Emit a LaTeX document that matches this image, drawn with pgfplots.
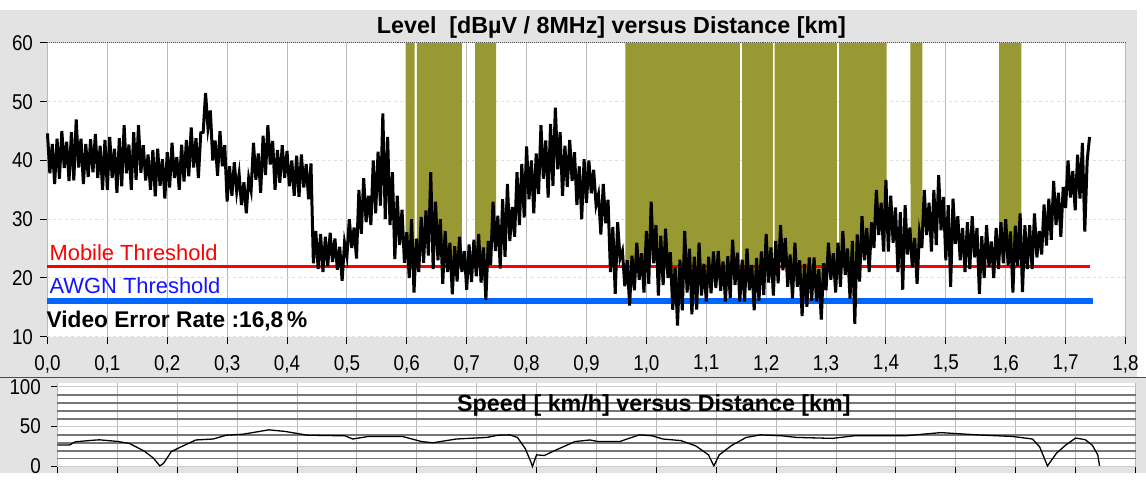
\documentclass[border=0pt]{standalone}
\usepackage{fontspec}
\setmainfont{Liberation Sans}
\newfontfamily\narrowfont[FakeStretch=0.88]{Liberation Sans}
\usepackage{pgfplots}
\usepackage{pgfplotstable}
\pgfplotsset{compat=1.18}
\usepgfplotslibrary{fillbetween}
\pgfdeclarelayer{background}
\pgfdeclarelayer{axis background}
\pgfdeclarelayer{axis grid}
\pgfdeclarelayer{axis ticks}
\pgfdeclarelayer{axis lines}
\pgfdeclarelayer{axis tick labels}
\pgfdeclarelayer{pre main}
\pgfdeclarelayer{axis descriptions}
\pgfdeclarelayer{axis foreground}
\pgfplotsset{
  layers/mylayers/.define layer set={
    background,axis background,axis grid,axis ticks,axis lines,axis tick labels,pre main,main,axis descriptions,axis foreground
  }{/pgfplots/layers/standard},
}
\definecolor{panel}{RGB}{227,227,227}
\definecolor{olivefill}{RGB}{153,153,51}
\definecolor{awgnline}{RGB}{0,102,255}
\definecolor{awgntext}{RGB}{20,20,255}
\definecolor{gridx}{RGB}{185,185,185}
\definecolor{darkgrid}{RGB}{118,118,118}
\newcommand\tickfont{\narrowfont\fontsize{21.5}{21.5}\selectfont}

\pgfplotstableread[row sep=\\]{
x y\\
0.000 44.6\\ 0.004 37.8\\ 0.008 42.8\\ 0.012 36\\ 0.016 43.7\\
0.020 36.9\\ 0.024 45\\ 0.028 38.7\\ 0.032 43.2\\ 0.036 36.5\\
0.040 44.8\\ 0.044 36.6\\ 0.048 47\\ 0.052 38.8\\ 0.056 43.7\\
0.060 36\\ 0.064 42.8\\ 0.068 37.2\\ 0.072 43.6\\ 0.076 38\\
0.080 44.5\\ 0.084 37\\ 0.088 42.5\\ 0.092 35\\ 0.096 43.5\\
0.100 35\\ 0.104 44\\ 0.108 37\\ 0.112 42\\ 0.116 34.5\\
0.120 43.8\\ 0.124 35.6\\ 0.128 46\\ 0.132 37.8\\ 0.136 42.7\\
0.140 35\\ 0.144 44.8\\ 0.148 36.7\\ 0.152 46\\ 0.156 37.9\\
0.160 42.6\\ 0.164 36.6\\ 0.168 41\\ 0.172 35\\ 0.176 41.8\\
0.180 33.9\\ 0.184 42\\ 0.188 35.7\\ 0.192 40.2\\ 0.196 33.5\\
0.200 41.4\\ 0.204 35.4\\ 0.208 43\\ 0.212 37\\ 0.216 40.6\\
0.220 35\\ 0.224 42.7\\ 0.228 36.4\\ 0.232 43.5\\ 0.236 37.3\\
0.240 45.6\\ 0.244 38.8\\ 0.248 43.8\\ 0.252 37\\ 0.256 44.7\\
0.260 44.8\\ 0.264 51.5\\ 0.268 45.5\\ 0.272 48.5\\ 0.276 40\\
0.280 43.4\\ 0.284 37.4\\ 0.288 45\\ 0.292 39\\ 0.296 42.6\\
0.300 33\\ 0.304 39\\ 0.308 34\\ 0.312 39.7\\ 0.316 34.7\\
0.320 37.7\\ 0.324 32.4\\ 0.328 36.3\\ 0.332 31\\ 0.336 37\\
0.340 34.9\\ 0.344 43\\ 0.348 36.7\\ 0.352 41.2\\ 0.356 34.5\\
0.360 44.2\\ 0.364 37.5\\ 0.368 46\\ 0.372 39.3\\ 0.376 43.3\\
0.380 35\\ 0.384 41.8\\ 0.388 36.2\\ 0.392 42.6\\ 0.396 37\\
0.400 41.6\\ 0.404 35.6\\ 0.408 40\\ 0.412 34\\ 0.416 40.8\\
0.420 33.8\\ 0.424 41\\ 0.428 35.4\\ 0.432 39.4\\ 0.436 33.4\\
0.440 39.5\\ 0.444 22.5\\ 0.448 28\\ 0.452 21.5\\ 0.456 27.5\\
0.460 21\\ 0.464 27\\ 0.468 22\\ 0.472 27.7\\ 0.476 22.7\\
0.480 26.7\\ 0.484 21.4\\ 0.488 25.3\\ 0.492 19.5\\ 0.496 26\\
0.500 23.7\\ 0.504 30\\ 0.508 25.1\\ 0.512 28.6\\ 0.516 23.3\\
0.520 35\\ 0.524 27.5\\ 0.528 37\\ 0.532 29.5\\ 0.536 34\\
0.540 29\\ 0.544 40\\ 0.548 31\\ 0.552 41.5\\ 0.556 32.3\\
0.560 48\\ 0.564 30\\ 0.568 44\\ 0.572 29\\ 0.576 38\\
0.580 23.2\\ 0.584 34\\ 0.588 25.6\\ 0.592 31.6\\ 0.596 22.6\\
0.600 27.8\\ 0.604 20\\ 0.608 30\\ 0.612 17.5\\ 0.616 26.7\\
0.620 21\\ 0.624 30.4\\ 0.628 22.6\\ 0.632 31.5\\ 0.636 23.8\\
0.640 38\\ 0.644 21.5\\ 0.648 33\\ 0.652 23\\ 0.656 30\\
0.660 19\\ 0.664 28\\ 0.668 21\\ 0.672 26\\ 0.676 17.2\\
0.680 25.4\\ 0.684 19.4\\ 0.688 27\\ 0.692 21\\ 0.696 24.6\\
0.700 18\\ 0.704 25.7\\ 0.708 19.3\\ 0.712 26.5\\ 0.716 20.3\\
0.720 27.5\\ 0.724 19.2\\ 0.728 25.2\\ 0.732 16.3\\ 0.736 26.3\\
0.740 22.2\\ 0.744 33\\ 0.748 24.6\\ 0.752 30.6\\ 0.756 21.6\\
0.760 33.4\\ 0.764 23.6\\ 0.768 36\\ 0.772 26.3\\ 0.776 32.1\\
0.780 27\\ 0.784 38\\ 0.788 29\\ 0.792 39.4\\ 0.796 30.3\\
0.800 42.4\\ 0.804 33.4\\ 0.808 40\\ 0.812 31\\ 0.816 41.2\\
0.820 34.3\\ 0.824 46\\ 0.828 36.9\\ 0.832 43.4\\ 0.836 33.7\\
0.840 46.2\\ 0.844 35.7\\ 0.848 49\\ 0.852 38.5\\ 0.856 44.8\\
0.860 34\\ 0.864 42.5\\ 0.868 35.5\\ 0.872 43.5\\ 0.876 36.5\\
0.880 41.4\\ 0.884 32.4\\ 0.888 39\\ 0.892 30\\ 0.896 40.2\\
0.900 32.8\\ 0.904 40\\ 0.908 34.4\\ 0.912 38.4\\ 0.916 32.4\\
0.920 34.2\\ 0.924 27.4\\ 0.928 36\\ 0.932 29.3\\ 0.936 33.3\\
0.940 21\\ 0.944 28.7\\ 0.948 17.3\\ 0.952 29.5\\ 0.956 23.3\\
0.960 24.6\\ 0.964 18.6\\ 0.968 23\\ 0.972 15.3\\ 0.976 23.8\\
0.980 17.9\\ 0.984 26\\ 0.988 19.7\\ 0.992 24.2\\ 0.996 17.5\\
1.000 28\\ 1.004 19\\ 1.008 33\\ 1.012 22.5\\ 1.016 29\\
1.020 17\\ 1.024 27.2\\ 1.028 18.8\\ 1.032 28.4\\ 1.036 20\\
1.040 24.4\\ 1.044 14.6\\ 1.048 21.8\\ 1.052 11.9\\ 1.056 23.1\\
1.060 14.5\\ 1.064 28\\ 1.068 17.5\\ 1.072 25\\ 1.076 13.8\\
1.080 23.6\\ 1.084 14.6\\ 1.088 26\\ 1.092 17\\ 1.096 22.4\\
1.100 16\\ 1.104 23.6\\ 1.108 17.4\\ 1.112 24.5\\ 1.116 18.3\\
1.120 24.6\\ 1.124 17.8\\ 1.128 22.8\\ 1.132 16\\ 1.136 23.7\\
1.140 16.6\\ 1.144 26.5\\ 1.148 18.8\\ 1.152 24.3\\ 1.156 16\\
1.160 23.1\\ 1.164 16\\ 1.168 25\\ 1.172 17.9\\ 1.176 22.2\\
1.180 14.5\\ 1.184 23.4\\ 1.188 16.1\\ 1.192 24.5\\ 1.196 17.1\\
1.200 27.5\\ 1.204 19.2\\ 1.208 25.2\\ 1.212 17\\ 1.216 26.3\\
1.220 19.1\\ 1.224 29\\ 1.228 21.3\\ 1.232 26.8\\ 1.236 18.5\\
1.240 24\\ 1.244 16.5\\ 1.248 26\\ 1.252 18.5\\ 1.256 23\\
1.260 13.5\\ 1.264 22.4\\ 1.268 15.1\\ 1.272 23.5\\ 1.276 16.1\\
1.280 23.5\\ 1.284 16\\ 1.288 21.5\\ 1.292 12.9\\ 1.296 22.5\\
1.300 17.9\\ 1.304 26\\ 1.308 19.7\\ 1.312 24.2\\ 1.316 17.5\\
1.320 26\\ 1.324 18.5\\ 1.328 28\\ 1.332 20.5\\ 1.336 25\\
1.340 16.5\\ 1.344 26.3\\ 1.348 12.2\\ 1.352 27.4\\ 1.356 19.4\\
1.360 30.5\\ 1.364 23\\ 1.368 28.5\\ 1.372 21\\ 1.376 29.5\\
1.380 25.1\\ 1.384 35\\ 1.388 27.3\\ 1.392 32.8\\ 1.396 24.5\\
1.400 36.7\\ 1.404 24.5\\ 1.408 34\\ 1.412 26\\ 1.416 32\\
1.420 21\\ 1.424 31.2\\ 1.428 18\\ 1.432 32.4\\ 1.436 24\\
1.440 28.6\\ 1.444 21.8\\ 1.448 26.8\\ 1.452 19\\ 1.456 27.7\\
1.460 25.1\\ 1.464 35\\ 1.468 27.3\\ 1.472 32.8\\ 1.476 24.5\\
1.480 35\\ 1.484 25.6\\ 1.488 37.5\\ 1.492 28.1\\ 1.496 33.8\\
1.500 23\\ 1.504 32.4\\ 1.508 18.5\\ 1.512 33.5\\ 1.516 25.8\\
1.520 30.5\\ 1.524 23\\ 1.528 28.5\\ 1.532 21\\ 1.536 29.5\\
1.540 21.5\\ 1.544 30.5\\ 1.548 23.5\\ 1.552 28.5\\ 1.556 17.3\\
1.560 27.1\\ 1.564 20\\ 1.568 29\\ 1.572 21.9\\ 1.576 26.2\\
1.580 20\\ 1.584 28.5\\ 1.588 21.5\\ 1.592 29.5\\ 1.596 22.5\\
1.600 30\\ 1.604 22.1\\ 1.608 27.9\\ 1.612 17.5\\ 1.616 28.9\\
1.620 22\\ 1.624 31\\ 1.628 17.6\\ 1.632 29\\ 1.636 21.5\\
1.640 29\\ 1.644 21.5\\ 1.648 31\\ 1.652 23.5\\ 1.656 28\\
1.660 24\\ 1.664 32.5\\ 1.668 25.5\\ 1.672 33.5\\ 1.676 26.5\\
1.680 36.5\\ 1.684 29\\ 1.688 34.5\\ 1.692 27\\ 1.696 35.5\\
1.700 31.9\\ 1.704 40\\ 1.708 33.7\\ 1.712 38.2\\ 1.716 31.5\\
1.720 41\\ 1.724 33.5\\ 1.728 43\\ 1.732 27.9\\ 1.736 40\\
1.740 44\\
}\sigdata

\pgfplotstableread[row sep=\\]{
x y\\
0.000 27\\ 0.020 27\\ 0.030 31\\ 0.060 33\\ 0.070 33.5\\ 0.100 31.5\\
0.120 29\\ 0.145 19.4\\ 0.160 10.7\\ 0.171 0.8\\ 0.177 4\\ 0.183 10.7\\
0.190 18.7\\ 0.206 24.6\\ 0.231 33.3\\ 0.260 34.5\\ 0.282 39.3\\ 0.310 40.5\\
0.353 46\\ 0.380 44\\ 0.417 39.3\\ 0.480 38.5\\ 0.493 34.5\\ 0.519 37.7\\
0.576 37.7\\ 0.608 31.3\\ 0.627 29.8\\ 0.666 34.5\\ 0.717 36.5\\ 0.736 39.3\\
0.755 39.7\\ 0.768 36.5\\ 0.781 22.6\\ 0.790 6.7\\ 0.793 0\\ 0.800 14.7\\
0.813 13.9\\ 0.832 20.6\\ 0.864 31.3\\ 0.889 33.3\\ 0.903 31.3\\ 0.939 31.3\\
0.951 34.5\\ 0.972 39.7\\ 0.993 38.5\\ 1.011 34.5\\ 1.041 32.5\\ 1.066 25.8\\
1.087 14.7\\ 1.096 0.8\\ 1.105 14.7\\ 1.126 26.6\\ 1.150 36.5\\ 1.174 39.7\\
1.210 38.5\\ 1.234 36.5\\ 1.294 35.3\\ 1.330 38.5\\ 1.415 38.5\\ 1.475 42.5\\
1.535 39.7\\ 1.595 37.7\\ 1.628 34.5\\ 1.640 24.6\\ 1.653 0.8\\ 1.668 16.7\\
1.683 26.6\\ 1.700 35.7\\ 1.716 33.7\\ 1.728 26.6\\ 1.737 14.7\\ 1.740 0.8\\
}\speeddata

\begin{document}
\begin{tikzpicture}
\pgfsetlayers{background,axis background,axis grid,axis ticks,axis lines,axis tick labels,pre main,main,axis descriptions,axis foreground}
\pgfplotsset{set layers=mylayers}
\begin{pgfonlayer}{background}
\fill[white] (0bp,0bp) rectangle (1146bp,473bp);
\fill[panel] (0bp,0bp) rectangle (1146bp,95bp);
\fill[panel] (0bp,96bp) rectangle (1137bp,463bp);
\draw[gray!60!black, line width=1bp] (0bp,95.5bp) -- (1146bp,95.5bp);
\end{pgfonlayer}
\begin{axis}[
  set layers=mylayers,
  at={(57bp,6bp)}, anchor=south west, scale only axis,
  width=1079bp, height=84bp,
  xmin=0, xmax=1.8, ymin=0, ymax=105,
  xtick={0,0.1,0.2,0.3,0.4,0.5,0.6,0.7,0.8,0.9,1.0,1.1,1.2,1.3,1.4,1.5,1.6,1.7,1.8},
  xticklabels={},
  ytick={0,50,100}, minor ytick={10,20,30,40,60,70,80,90},
  xmajorgrids, ymajorgrids, yminorgrids,
  major x grid style={gridx, line width=1bp},
  major y grid style={gray!40, line width=1bp},
  minor y grid style={darkgrid, line width=1.8bp},
  axis line style={draw=none},
  axis background/.style={fill=white},
  tick align=outside, major tick length=6bp, minor tick length=0pt,
  tick style={black, line width=1bp},
  xtick pos=bottom, ytick pos=left,
  tick label style={font=\tickfont},
  yticklabel style={xshift=-7bp},
  /pgf/number format/assume math mode=true,
  clip=false,
]
\addplot[black, line width=1.3bp] table {\speeddata};
\end{axis}
\node[font=\bfseries\fontsize{23.4}{24}\selectfont, anchor=base] at (654bp,61bp) {Speed [ km/h] versus Distance [km]};
\begin{axis}[
  set layers=mylayers,
  at={(47bp,136bp)}, anchor=south west, scale only axis,
  width=1079bp, height=294bp,
  xmin=0, xmax=1.8, ymin=10, ymax=60,
  xtick={0,0.1,0.2,0.3,0.4,0.5,0.6,0.7,0.8,0.9,1.0,1.1,1.2,1.3,1.4,1.5,1.6,1.7,1.8},
  ytick={10,20,30,40,50,60},
  xmajorgrids, ymajorgrids,
  major x grid style={gridx, line width=1bp},
  major y grid style={gray!25, dashed, line width=1bp},
  axis line style={draw=none},
  axis background/.style={fill=white},
  tick align=outside, major tick length=7bp,
  tick style={black, line width=1bp},
  xtick pos=bottom, ytick pos=left,
  tick label style={font=\tickfont},
  yticklabel style={xshift=-4bp},
  xticklabel style={yshift=-8bp, /pgf/number format/fixed, /pgf/number format/fixed zerofill, /pgf/number format/precision=1, /pgf/number format/use comma},
  /pgf/number format/assume math mode=true,
  clip=false,
]
\addplot[draw=none, name path=sig, forget plot] table {\sigdata};
\addplot[draw=black!70, densely dotted, line width=1bp, name path=top, forget plot] coordinates {(0,60) (1.8,60)};
\addplot[olivefill, forget plot] fill between[of=top and sig, soft clip={domain=0.598:0.613}];
\addplot[olivefill, forget plot] fill between[of=top and sig, soft clip={domain=0.617:0.692}];
\addplot[olivefill, forget plot] fill between[of=top and sig, soft clip={domain=0.714:0.749}];
\addplot[olivefill, forget plot] fill between[of=top and sig, soft clip={domain=0.965:1.156}];
\addplot[olivefill, forget plot] fill between[of=top and sig, soft clip={domain=1.160:1.211}];
\addplot[olivefill, forget plot] fill between[of=top and sig, soft clip={domain=1.214:1.318}];
\addplot[olivefill, forget plot] fill between[of=top and sig, soft clip={domain=1.322:1.401}];
\addplot[olivefill, forget plot] fill between[of=top and sig, soft clip={domain=1.441:1.461}];
\addplot[olivefill, forget plot] fill between[of=top and sig, soft clip={domain=1.589:1.626}];
\addplot[red, line width=2.8bp, forget plot] coordinates {(0,22) (1.741,22)};
\addplot[awgnline, line width=6bp, forget plot] coordinates {(0,16) (1.745,16)};
\addplot[black, line width=3bp, forget plot] table {\sigdata};
\end{axis}
\node[font=\bfseries\fontsize{23.4}{24}\selectfont, anchor=base] at (611.5bp,439bp) {Level\ \ [dBµV / 8MHz] versus Distance [km]};
\node[font=\fontsize{22}{22}\selectfont, text=red, anchor=base west, inner sep=0pt] at (49bp,212bp) {Mobile Threshold};
\node[font=\fontsize{22}{22}\selectfont, text=awgntext, anchor=base west, inner sep=0pt] at (49bp,179bp) {AWGN Threshold};
\node[font=\bfseries\fontsize{22.8}{23}\selectfont, anchor=base west, inner sep=0pt] at (46bp,145bp) {Video Error Rate :16,8\,\%};
\end{tikzpicture}
\end{document}
